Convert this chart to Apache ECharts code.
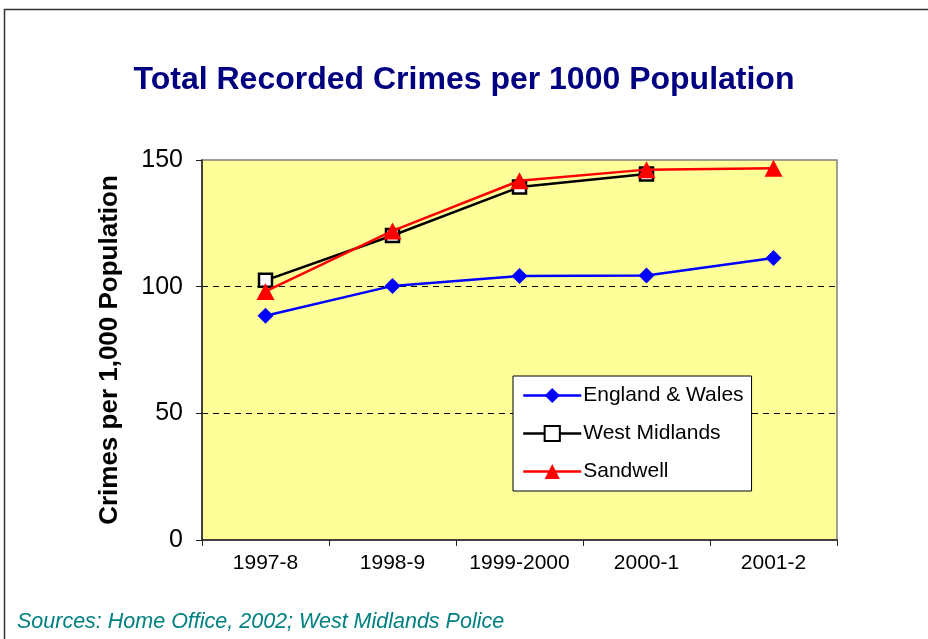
<!DOCTYPE html>
<html>
<head>
<meta charset="utf-8">
<script src="https://cdn.jsdelivr.net/npm/echarts@6/dist/echarts.min.js"></script>
<style>
  html, body { margin: 0; padding: 0; background: #fff; }
  #chart { width: 928px; height: 639px; }
</style>
</head>
<body>
<div id="chart"></div>
<script>
const years = ['1997-8', '1998-9', '1999-2000', '2000-1', '2001-2']
const englandWales = [88.5, 100.3, 104.2, 104.4, 111.3]
const westMidlands = [102.5, 120.2, 139.3, 144.5, null]
const sandwell = [98.1, 122, 141.8, 146.2, 146.7]
const yTicks = { min: 0, max: 150, step: 50 }

const FONT = '"Liberation Sans", Arial, sans-serif'

const chart = echarts.init(document.getElementById('chart'))

chart.setOption({
  animation: false,
  textStyle: { fontFamily: FONT },
  title: {
    text: 'Total Recorded Crimes per 1000 Population',
    left: 'center',
    top: 59,
    textStyle: { color: '#000080', fontSize: 32, fontWeight: 'bold', fontFamily: FONT }
  },
  graphic: [
    {
      type: 'rect',
      shape: { x: 4.5, y: 9.5, width: 1000, height: 1000 },
      style: { fill: 'none', stroke: '#333', lineWidth: 1.5 },
      silent: true
    },
    {
      type: 'text',
      left: 17,
      top: 611,
      style: {
        text: 'Sources: Home Office, 2002; West Midlands Police',
        fill: '#008080',
        font: 'italic 21.5px ' + FONT
      }
    }
  ],
  grid: {
    left: 202, right: 91, top: 160, bottom: 99,
    show: true,
    backgroundColor: '#FFFF99',
    borderColor: '#808080',
    borderWidth: 1.5
  },
  legend: {
    orient: 'vertical',
    left: 513,
    top: 376,
    padding: [9, 8, 9, 9],
    itemGap: 17,
    itemWidth: 58,
    itemHeight: 19,
    backgroundColor: '#fff',
    borderColor: '#000',
    borderWidth: 1,
    lineStyle: { width: 2.5 },
    textStyle: { fontSize: 21, color: '#000', fontFamily: FONT, padding: [0, 0, 0, -3] },
    data: ['England & Wales', 'West Midlands', 'Sandwell']
  },
  xAxis: {
    type: 'category',
    data: years,
    boundaryGap: true,
    axisLine: { lineStyle: { color: '#222', width: 1.5 } },
    axisTick: { show: true, interval: 0, length: 6, lineStyle: { color: '#222' } },
    axisLabel: { interval: 0, color: '#000', fontSize: 21, margin: 13, fontFamily: FONT }
  },
  yAxis: {
    type: 'value',
    min: yTicks.min,
    max: yTicks.max,
    interval: yTicks.step,
    name: 'Crimes per 1,000 Population',
    nameLocation: 'middle',
    nameGap: 79,
    nameRotate: 90,
    nameTextStyle: { color: '#000', fontSize: 26, fontWeight: 'bold', fontFamily: FONT },
    axisLine: { show: true, lineStyle: { color: '#222', width: 1.5 } },
    axisTick: { show: true, length: 6, lineStyle: { color: '#222' } },
    axisLabel: { color: '#000', fontSize: 25, margin: 19, fontFamily: FONT },
    splitLine: {
      show: true,
      lineStyle: { color: ['transparent', '#000', '#000', 'transparent'], type: [6, 5], width: 1 }
    }
  },
  series: [
    {
      name: 'England & Wales',
      type: 'line',
      data: englandWales,
      symbol: 'diamond',
      symbolSize: [16, 16],
      lineStyle: { color: '#0000FF', width: 2.5 },
      itemStyle: { color: '#0000FF' },
      z: 2
    },
    {
      name: 'West Midlands',
      type: 'line',
      data: westMidlands,
      symbol: 'rect',
      symbolSize: 13,
      lineStyle: { color: '#000', width: 2.5 },
      itemStyle: { color: '#fff', borderColor: '#000', borderWidth: 2.5 },
      z: 3
    },
    {
      name: 'Sandwell',
      type: 'line',
      data: sandwell,
      symbol: 'triangle',
      symbolSize: [18, 17],
      lineStyle: { color: '#FF0000', width: 2.5 },
      itemStyle: { color: '#FF0000' },
      z: 4
    }
  ]
})
</script>
</body>
</html>
